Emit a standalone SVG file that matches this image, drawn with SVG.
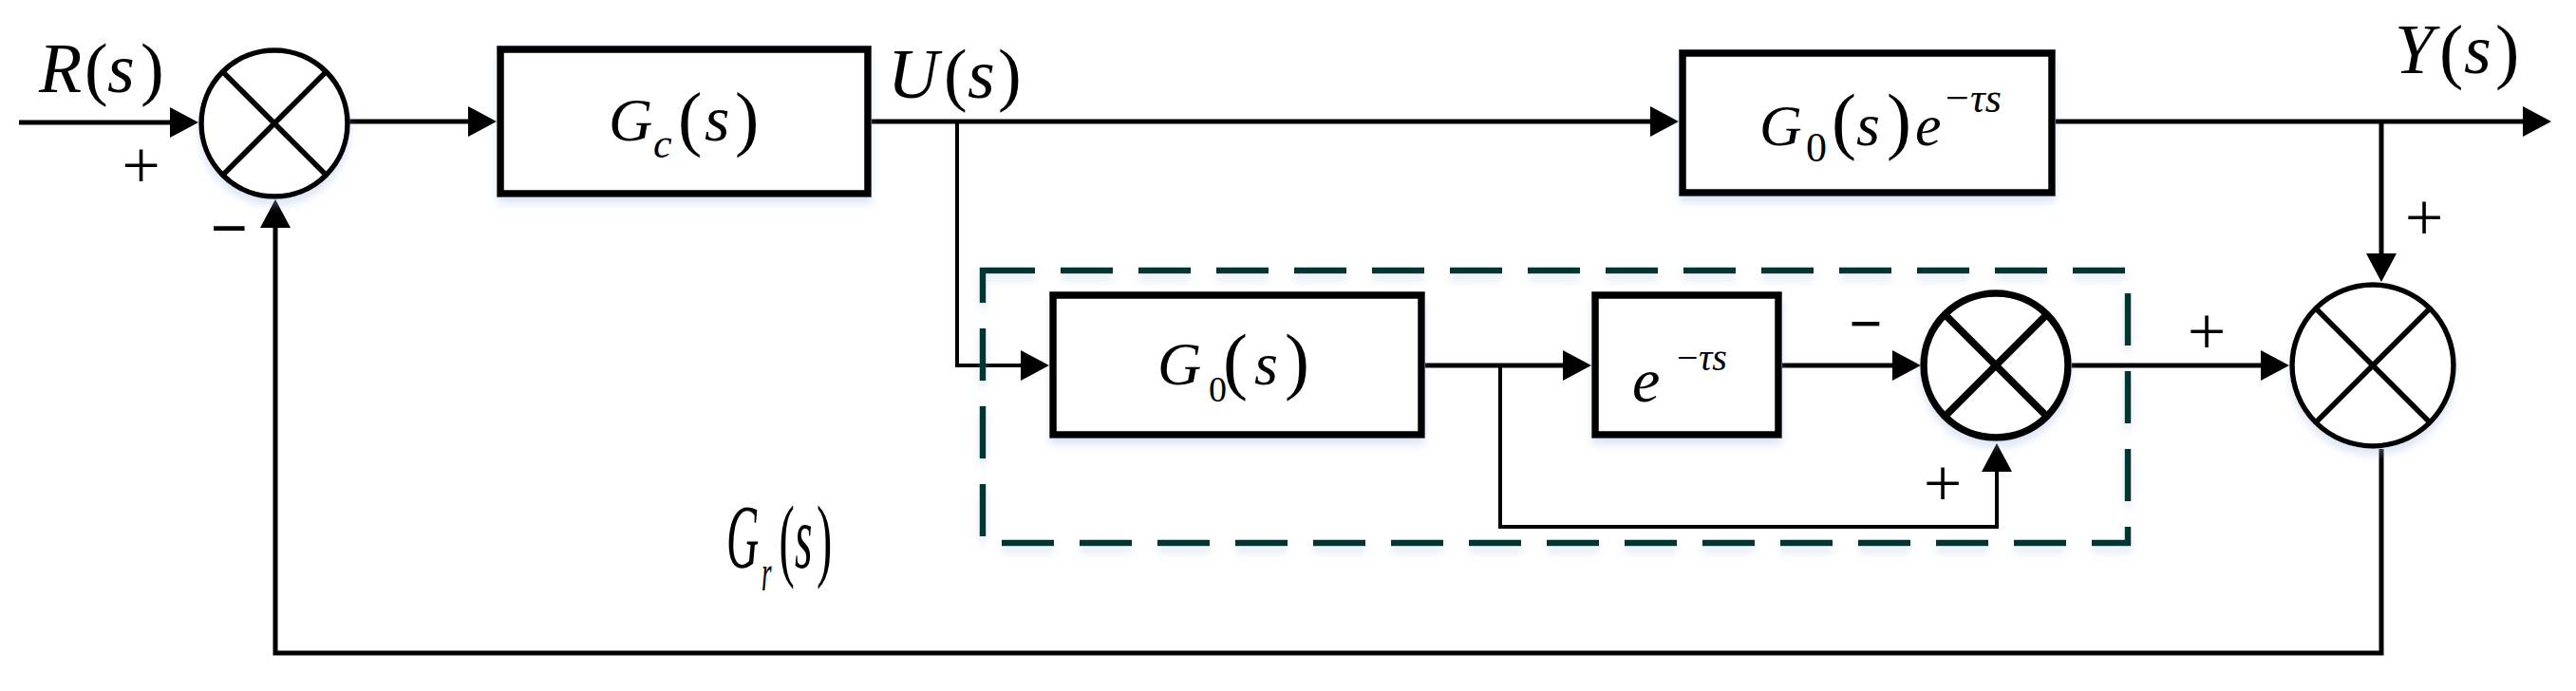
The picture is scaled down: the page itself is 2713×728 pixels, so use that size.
<svg xmlns="http://www.w3.org/2000/svg" width="2713" height="728" viewBox="0 0 2713 728">
<defs>
<marker id="arr" markerUnits="userSpaceOnUse" markerWidth="32" markerHeight="34" refX="20" refY="16" orient="auto"><path d="M0,0 L30,16 L0,32 Z" fill="#000"/></marker>
<filter id="sh" x="-10%" y="-15%" width="120%" height="140%"><feDropShadow dx="0" dy="7" stdDeviation="4" flood-color="#9fb8e0" flood-opacity="0.35"/></filter>
</defs>
<style>
.ln{fill:none;stroke:#000;stroke-width:5;stroke-linejoin:miter}
.thin{stroke-width:4}
.box{fill:#fff;stroke:#000;stroke-width:7.5}
.sum{fill:#fff;stroke:#000;stroke-width:5.5}
.sumb{fill:#fff;stroke:#000;stroke-width:7.5}
.x{stroke:#000;stroke-width:5.5}
.xb{stroke:#000;stroke-width:7.5}
text{font-family:'Liberation Serif',serif;fill:#000}
.i{font-style:italic}
.dash{fill:none;stroke:#053432;stroke-width:6.5;stroke-dasharray:55 27}
</style>
<rect width="2713" height="728" fill="#fff"/>

<g id="connectors">
<path class="ln" d="M20,129 H199" marker-end="url(#arr)"/>
<path class="ln" d="M367,128 H513" marker-end="url(#arr)"/>
<path class="ln" d="M918,128 H1758" marker-end="url(#arr)"/>
<path class="ln" d="M2165,128 H2677" marker-end="url(#arr)"/>
<path class="ln" d="M2508,128 V287" marker-end="url(#arr)"/>
<path class="ln thin" d="M1008,128 V385 H1095" marker-end="url(#arr)"/>
<path class="ln" d="M1501,385 H1666" marker-end="url(#arr)"/>
<path class="ln" d="M1877,385 H2013" marker-end="url(#arr)"/>
<path class="ln thin" d="M1580,385 V555 H2103 V477" marker-end="url(#arr)"/>
<path class="ln" d="M2182,385 H2401" marker-end="url(#arr)"/>
<path class="ln" d="M2508,473 V688 H290 V220" marker-end="url(#arr)"/>
</g>

<g id="sum1" filter="url(#sh)">
<circle class="sum" cx="289" cy="130" r="77"/>
<line class="x" x1="234" y1="75" x2="344" y2="185"/>
<line class="x" x1="344" y1="75" x2="234" y2="185"/>
</g>

<g id="Gc">
<rect class="box" x="527" y="52" width="387" height="152" filter="url(#sh)"/>
<text font-family="Liberation Serif, serif"><tspan class="i" x="641" y="148" font-size="64">G</tspan><tspan class="i" x="688" y="166" font-size="44">c</tspan><tspan x="714" y="150" font-size="76">(</tspan><tspan class="i" x="742" y="148" font-size="68">s</tspan><tspan x="774" y="150" font-size="76">)</tspan></text>
</g>

<g id="G0e">
<rect class="box" x="1772" y="56" width="389" height="147" filter="url(#sh)"/>
<text font-family="Liberation Serif, serif"><tspan class="i" x="1853" y="153" font-size="62">G</tspan><tspan x="1902" y="170" font-size="44">0</tspan><tspan x="1929" y="153" font-size="78">(</tspan><tspan class="i" x="1955" y="153" font-size="64">s</tspan><tspan x="1987" y="153" font-size="78">)</tspan><tspan class="i" x="2017" y="153" font-size="62">e</tspan><tspan x="2049" y="118" font-size="44">−</tspan><tspan class="i" x="2075" y="118" font-size="44">τs</tspan></text>
</g>

<g id="G0">
<rect class="box" x="1109" y="311" width="388" height="147" filter="url(#sh)"/>
<text font-family="Liberation Serif, serif"><tspan class="i" x="1219" y="405" font-size="64">G</tspan><tspan x="1273" y="423" font-size="38">0</tspan><tspan x="1288" y="406" font-size="78">(</tspan><tspan class="i" x="1321" y="405" font-size="64">s</tspan><tspan x="1353" y="406" font-size="78">)</tspan></text>
</g>

<g id="delay">
<rect class="box" x="1680" y="311" width="193" height="147" filter="url(#sh)"/>
<text font-family="Liberation Serif, serif"><tspan class="i" x="1719" y="423" font-size="66">e</tspan><tspan x="1766" y="390" font-size="40">−</tspan><tspan class="i" x="1789" y="390" font-size="40">τs</tspan></text>
</g>

<g id="sum3" filter="url(#sh)">
<circle class="sumb" cx="2102" cy="385" r="76"/>
<line class="xb" x1="2048" y1="331" x2="2156" y2="439"/>
<line class="xb" x1="2156" y1="331" x2="2048" y2="439"/>
</g>

<g id="sum2" filter="url(#sh)">
<circle class="sum" cx="2499" cy="385" r="85"/>
<line class="x" x1="2439" y1="325" x2="2559" y2="445"/>
<line class="x" x1="2559" y1="325" x2="2439" y2="445"/>
</g>

<g id="Gr">
<path class="dash" d="M1035,285 H2241 V572 H1035 Z" filter="url(#sh)"/>
<g transform="translate(767,598) scale(0.5,1)">
<text font-family="Liberation Serif, serif"><tspan class="i" x="-4" y="0" font-size="95">G</tspan><tspan class="i" x="70" y="24" font-size="54">r</tspan><tspan x="107" y="2" font-size="98">(</tspan><tspan class="i" x="140" y="0" font-size="95">s</tspan><tspan x="186" y="2" font-size="98">)</tspan></text>
</g>
</g>

<g id="labels" font-family="Liberation Serif, serif">
<text><tspan class="i" x="41" y="97" font-size="74">R</tspan><tspan x="89" y="97" font-size="74">(</tspan><tspan class="i" x="113" y="97" font-size="74">s</tspan><tspan x="148" y="97" font-size="74">)</tspan></text>
<text><tspan class="i" x="935" y="103" font-size="74">U</tspan><tspan x="994" y="103" font-size="74">(</tspan><tspan class="i" x="1019" y="103" font-size="74">s</tspan><tspan x="1051" y="103" font-size="74">)</tspan></text>
<text><tspan class="i" x="2522" y="77" font-size="74">Y</tspan><tspan x="2569" y="79" font-size="76">(</tspan><tspan class="i" x="2595" y="77" font-size="74">s</tspan><tspan x="2628" y="79" font-size="76">)</tspan></text>
<text font-size="72" text-anchor="middle" x="148.5" y="198">+</text>
<text font-size="70" font-weight="bold" text-anchor="middle" x="241.5" y="264">−</text>
<text font-size="72" text-anchor="middle" x="2553" y="253">+</text>
<text font-size="62" font-weight="bold" text-anchor="middle" x="1965" y="362">−</text>
<text font-size="72" text-anchor="middle" x="2046" y="533">+</text>
<text font-size="72" text-anchor="middle" x="2324" y="373">+</text>
</g>
</svg>
